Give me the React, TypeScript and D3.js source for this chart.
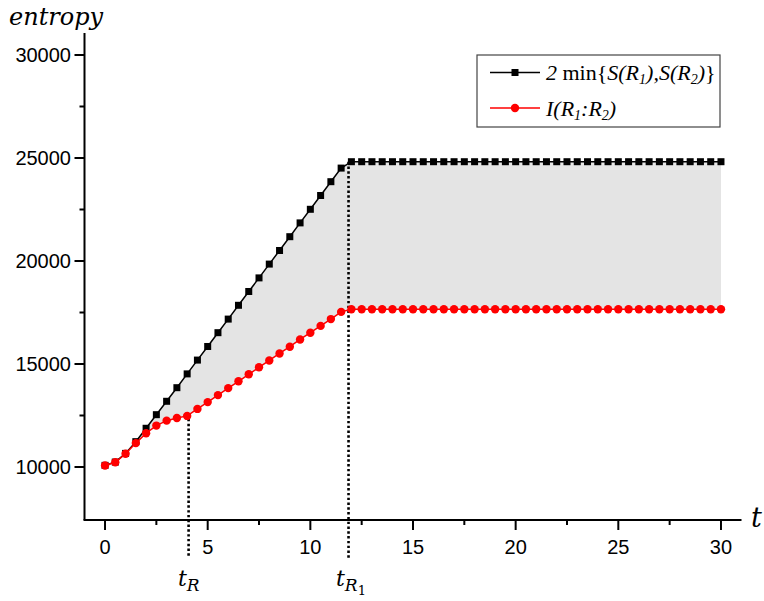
import React from "react";
import * as d3 from "d3";

const tValues = [
  0, 0.5, 1, 1.5, 2, 2.5, 3, 3.5, 4, 4.5, 5, 5.5, 6, 6.5, 7, 7.5, 8, 8.5, 9, 9.5,
  10, 10.5, 11, 11.5, 12, 12.5, 13, 13.5, 14, 14.5, 15, 15.5, 16, 16.5, 17, 17.5,
  18, 18.5, 19, 19.5, 20, 20.5, 21, 21.5, 22, 22.5, 23, 23.5, 24, 24.5, 25, 25.5,
  26, 26.5, 27, 27.5, 28, 28.5, 29, 29.5, 30,
];

const minSValues = [
  10080, 10240, 10660, 11230, 11880, 12540, 13190, 13850, 14520, 15190, 15850,
  16520, 17180, 17850, 18520, 19180, 19850, 20510, 21180, 21850, 22510, 23180,
  23850, 24510, 24820, 24820, 24820, 24820, 24820, 24820, 24820, 24820, 24820,
  24820, 24820, 24820, 24820, 24820, 24820, 24820, 24820, 24820, 24820, 24820,
  24820, 24820, 24820, 24820, 24820, 24820, 24820, 24820, 24820, 24820, 24820,
  24820, 24820, 24820, 24820, 24820, 24820,
];

const mutualValues = [
  10070, 10230, 10640, 11160, 11640, 12010, 12250, 12380, 12480, 12820, 13150,
  13490, 13830, 14160, 14500, 14840, 15170, 15510, 15840, 16190, 16520, 16850,
  17180, 17530, 17660, 17660, 17660, 17660, 17660, 17660, 17660, 17660, 17660,
  17660, 17660, 17660, 17660, 17660, 17660, 17660, 17660, 17660, 17660, 17660,
  17660, 17660, 17660, 17660, 17660, 17660, 17660, 17660, 17660, 17660, 17660,
  17660, 17660, 17660, 17660, 17660, 17660,
];

const xTicks = [0, 5, 10, 15, 20, 25, 30];
const xMinorTicks = [2.5, 7.5, 12.5, 17.5, 22.5, 27.5];
const yTicks = [10000, 15000, 20000, 25000, 30000];
const yMinorTicks = [12500, 17500, 22500, 27500];

const tR = 4.07;
const tR1 = 11.86;

const W = 764;
const H = 601;

export default function App() {
  const x = d3.scaleLinear().domain([-1, 31]).range([84.5, 741.5]);
  const y = d3.scaleLinear().domain([10000, 30000]).range([467, 55]);
  const axisBottom = 520;
  const axisTop = 33;

  const data = tValues.map((t, i) => ({ t, s: minSValues[i], m: mutualValues[i] }));

  const area = d3
    .area<{ t: number; s: number; m: number }>()
    .x((d) => x(d.t))
    .y0((d) => y(d.m))
    .y1((d) => y(d.s));
  const lineS = d3
    .line<{ t: number; s: number; m: number }>()
    .x((d) => x(d.t))
    .y((d) => y(d.s));
  const lineM = d3
    .line<{ t: number; s: number; m: number }>()
    .x((d) => x(d.t))
    .y((d) => y(d.m));

  const sans = "'Liberation Sans', Arial, sans-serif";
  const serif = "'DejaVu Serif', serif";
  const legendSerif = "'Liberation Serif', 'Times New Roman', serif";

  const idxR = tValues.findIndex((t) => t >= tR);
  const mAtR = d3.interpolateNumber(mutualValues[idxR - 1], mutualValues[idxR])(
    (tR - tValues[idxR - 1]) / (tValues[idxR] - tValues[idxR - 1])
  );

  return (
    <svg
      width={W}
      height={H}
      style={{ position: "absolute", left: 0, top: 0, background: "#fff" }}
    >
      <rect x={0} y={0} width={W} height={H} fill="#fff" />
      <path d={area(data) || ""} fill="#e4e4e4" stroke="none" />

      {/* dotted guides */}
      <line
        x1={x(tR)}
        x2={x(tR)}
        y1={y(mAtR) + 4}
        y2={558}
        stroke="#000"
        strokeWidth={2.6}
        strokeDasharray="2.4,2.4"
      />
      <line
        x1={x(tR1)}
        x2={x(tR1)}
        y1={y(minSValues[24])}
        y2={558}
        stroke="#000"
        strokeWidth={2.6}
        strokeDasharray="2.4,2.4"
      />

      {/* axes */}
      <line x1={x(-1)} x2={x(-1)} y1={axisTop} y2={axisBottom} stroke="#000" strokeWidth={2} />
      <line x1={x(-1) - 1} x2={x(31)} y1={axisBottom} y2={axisBottom} stroke="#000" strokeWidth={2} />
      {xTicks.map((t) => (
        <g key={"xt" + t}>
          <line x1={x(t)} x2={x(t)} y1={axisBottom} y2={axisBottom + 10} stroke="#000" strokeWidth={2} />
          <text x={x(t)} y={554} textAnchor="middle" fontFamily={sans} fontSize={20} fill="#000">
            {t}
          </text>
        </g>
      ))}
      {xMinorTicks.map((t) => (
        <line key={"xm" + t} x1={x(t)} x2={x(t)} y1={axisBottom} y2={axisBottom + 5} stroke="#000" strokeWidth={2} />
      ))}
      {yTicks.map((v) => (
        <g key={"yt" + v}>
          <line x1={x(-1) - 10} x2={x(-1)} y1={y(v)} y2={y(v)} stroke="#000" strokeWidth={2} />
          <text
            x={71}
            y={y(v)}
            dy="0.36em"
            textAnchor="end"
            fontFamily={sans}
            fontSize={20}
            fill="#000"
          >
            {v}
          </text>
        </g>
      ))}
      {yMinorTicks.map((v) => (
        <line key={"ym" + v} x1={x(-1) - 5} x2={x(-1)} y1={y(v)} y2={y(v)} stroke="#000" strokeWidth={2} />
      ))}

      {/* series */}
      <path d={lineS(data) || ""} fill="none" stroke="#000" strokeWidth={1.5} />
      {data.map((d, i) => (
        <rect key={"s" + i} x={x(d.t) - 3.5} y={y(d.s) - 3.5} width={7} height={7} fill="#000" />
      ))}
      <path d={lineM(data) || ""} fill="none" stroke="#ff0000" strokeWidth={1.5} />
      {data.map((d, i) => (
        <circle key={"m" + i} cx={x(d.t)} cy={y(d.m)} r={4.2} fill="#ff0000" />
      ))}

      {/* axis titles */}
      <text x={9} y={25} fontFamily={serif} fontStyle="italic" fontSize={24} fill="#000">
        entropy
      </text>
      <text x={751} y={527} fontFamily={serif} fontStyle="italic" fontSize={27} fill="#000">
        t
      </text>

      {/* t_R labels */}
      <text x={178} y={586} fontFamily={serif} fontStyle="italic" fontSize={22} fill="#000">
        t
        <tspan fontSize={17} dy={5}>R</tspan>
      </text>
      <text x={336} y={586} fontFamily={serif} fontStyle="italic" fontSize={22} fill="#000">
        t
        <tspan fontSize={17} dy={5}>R</tspan>
        <tspan fontSize={13} dy={4} fontStyle="normal">1</tspan>
      </text>

      {/* legend */}
      <rect x={477} y={55} width={243} height={72} fill="#fff" stroke="#444" strokeWidth={1.2} />
      <line x1={490} x2={540} y1={72.5} y2={72.5} stroke="#000" strokeWidth={1.5} />
      <rect x={511.5} y={69} width={7} height={7} fill="#000" />
      <line x1={490} x2={540} y1={108} y2={108} stroke="#ff0000" strokeWidth={1.5} />
      <circle cx={515} cy={108} r={4.2} fill="#ff0000" />
      <text x={546} y={80} fontFamily={legendSerif} fontSize={22} fill="#000">
        <tspan fontStyle="italic">2</tspan>
        <tspan> min{"{"}</tspan>
        <tspan fontStyle="italic">S(R</tspan>
        <tspan fontStyle="italic" fontSize={14} dy={4}>1</tspan>
        <tspan fontStyle="italic" dy={-4}>),S(R</tspan>
        <tspan fontStyle="italic" fontSize={14} dy={4}>2</tspan>
        <tspan fontStyle="italic" dy={-4}>)</tspan>
        <tspan>{"}"}</tspan>
      </text>
      <text x={546} y={116} fontFamily={legendSerif} fontSize={22} fill="#000">
        <tspan fontStyle="italic">I(R</tspan>
        <tspan fontStyle="italic" fontSize={14} dy={4}>1</tspan>
        <tspan fontStyle="italic" dy={-4}>:R</tspan>
        <tspan fontStyle="italic" fontSize={14} dy={4}>2</tspan>
        <tspan fontStyle="italic" dy={-4}>)</tspan>
      </text>
    </svg>
  );
}
